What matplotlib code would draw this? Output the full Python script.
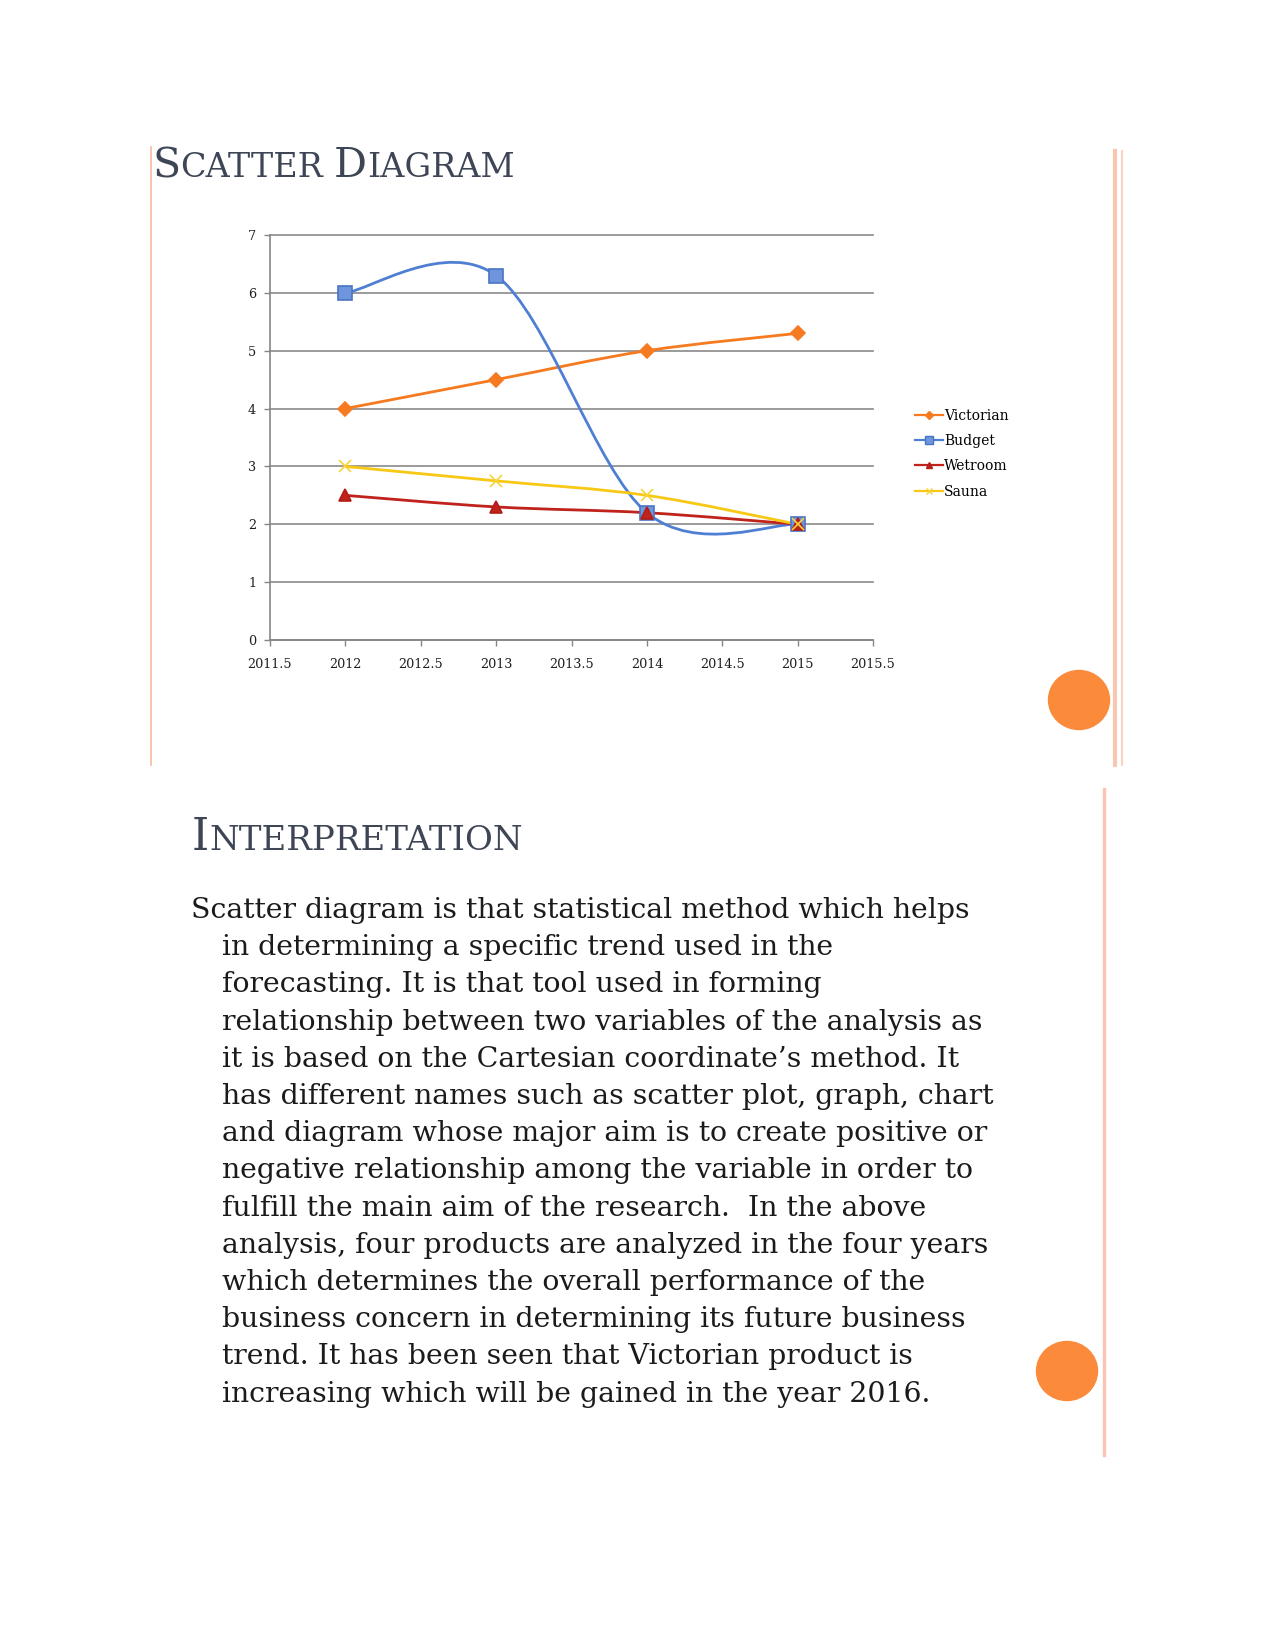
import matplotlib
matplotlib.use("Agg")
import matplotlib.pyplot as plt
from matplotlib.path import Path
from matplotlib.patches import PathPatch, Ellipse
from matplotlib.lines import Line2D

# ---- chart data ----
years = [2012, 2013, 2014, 2015]
victorian = [4.0, 4.5, 5.0, 5.3]
budget = [6.0, 6.3, 2.2, 2.0]
wetroom = [2.5, 2.3, 2.2, 2.0]
sauna = [3.0, 2.75, 2.5, 2.0]
series_names = ["Victorian", "Budget", "Wetroom", "Sauna"]
x_ticks = [2011.5, 2012, 2012.5, 2013, 2013.5, 2014, 2014.5, 2015, 2015.5]
y_ticks = [0, 1, 2, 3, 4, 5, 6, 7]

body_lines = [
    "Scatter diagram is that statistical method which helps",
    "in determining a specific trend used in the",
    "forecasting. It is that tool used in forming",
    "relationship between two variables of the analysis as",
    "it is based on the Cartesian coordinate\u2019s method. It",
    "has different names such as scatter plot, graph, chart",
    "and diagram whose major aim is to create positive or",
    "negative relationship among the variable in order to",
    "fulfill the main aim of the research.  In the above",
    "analysis, four products are analyzed in the four years",
    "which determines the overall performance of the",
    "business concern in determining its future business",
    "trend. It has been seen that Victorian product is",
    "increasing which will be gained in the year 2016.",
]

W, H = 1275, 1650
SERIF = "DejaVu Serif"
TITLE_COLOR = "#3e4656"


def fx(px):
    return px / W


def fy(py):
    return 1 - py / H


def smooth_path(xs, ys):
    # Excel-style smoothed line: cubic Bezier with 1/6 tangents
    n = len(xs)
    verts = [(xs[0], ys[0])]
    codes = [Path.MOVETO]
    for i in range(n - 1):
        p0 = (xs[max(i - 1, 0)], ys[max(i - 1, 0)])
        p1 = (xs[i], ys[i])
        p2 = (xs[i + 1], ys[i + 1])
        p3 = (xs[min(i + 2, n - 1)], ys[min(i + 2, n - 1)])
        c1 = (p1[0] + (p2[0] - p0[0]) / 6, p1[1] + (p2[1] - p0[1]) / 6)
        c2 = (p2[0] - (p3[0] - p1[0]) / 6, p2[1] - (p3[1] - p1[1]) / 6)
        verts += [c1, c2, p2]
        codes += [Path.CURVE4] * 3
    return Path(verts, codes)


def small_caps(fig, x, y, words, big, small, color):
    # first letter large, rest smaller capitals
    renderer = fig.canvas.get_renderer()
    cur = x
    for wi, word in enumerate(words):
        if wi > 0:
            cur += small * 0.45
        for k, part in enumerate([word[0], word[1:]]):
            size = big if k == 0 else small
            t = fig.text(fx(cur), fy(y), part, fontsize=size, family=SERIF,
                         color=color, va="baseline", ha="left")
            cur += t.get_window_extent(renderer).width


fig = plt.figure(figsize=(12.75, 16.5), dpi=100)

# ---- decorations ----
fig.add_artist(Line2D([fx(150.5), fx(150.5)], [fy(147), fy(765)], color="#f6b9a1", lw=1.2))
fig.add_artist(Line2D([fx(1115), fx(1115)], [fy(151), fy(765)], color="#f8c6b1", lw=3.0))
fig.add_artist(Line2D([fx(1121.5), fx(1121.5)], [fy(151), fy(765)], color="#fbd3c3", lw=1.5))
fig.add_artist(Line2D([fx(1104), fx(1104)], [fy(789), fy(1455)], color="#fbc3b2", lw=2.4))
fig.add_artist(Ellipse((fx(1079), fy(700)), 61 / W, 59 / H, color="#fb8a3b"))
fig.add_artist(Ellipse((fx(1067), fy(1371)), 61 / W, 59 / H, color="#fb8a3b"))

# ---- chart ----
ax = fig.add_axes([fx(270), fy(640), (873 - 270) / W, (640 - 235) / H])
styles = [
    dict(color="#f67a1f", marker="D", ms=7, mfc="#f67a1f", mec="#f67a1f"),
    dict(color="#4f7fd3", marker="s", ms=10, mfc="#6f96dc", mec="#4a74c6"),
    dict(color="#c0231b", marker="^", ms=9, mfc="#c0231b", mec="#b01e17"),
    dict(color="#f7c816", marker="x", ms=9, mfc="none", mec="#f7d23a"),
]
all_series = [victorian, budget, wetroom, sauna]
handles = []
for name, vals, st in zip(series_names, all_series, styles):
    ax.add_patch(PathPatch(smooth_path(years, vals), fill=False,
                           edgecolor=st["color"], lw=2.0, zorder=3))
    ax.plot(years, vals, ls="none", marker=st["marker"], ms=st["ms"],
            mfc=st["mfc"], mec=st["mec"], mew=1.2, zorder=4)
    handles.append(Line2D([], [], color=st["color"], lw=1.6, marker=st["marker"],
                          ms=st["ms"] * 0.55, mfc=st["mfc"], mec=st["mec"], label=name))

ax.set_xlim(2011.5, 2015.5)
ax.set_ylim(0, 7)
ax.set_xticks(x_ticks)
ax.set_xticklabels([f"{v:g}" for v in x_ticks])
ax.set_yticks(y_ticks)
ax.grid(axis="y", color="#8a8a8a", lw=1.2, zorder=1)
ax.set_axisbelow(True)
for gl in ax.get_ygridlines():
    gl.set_clip_on(False)
for s in ["top", "right"]:
    ax.spines[s].set_visible(False)
for s in ["left", "bottom"]:
    ax.spines[s].set_color("#868686")
    ax.spines[s].set_linewidth(1.2)
ax.tick_params(axis="both", colors="#868686", length=4, width=1.0,
               labelcolor="#1e1e1e", labelsize=9.2)
ax.tick_params(axis="x", pad=9)
ax.tick_params(axis="y", pad=6)
for lab in ax.get_xticklabels() + ax.get_yticklabels():
    lab.set_family(SERIF)

fig.legend(handles=handles, loc="upper left", bbox_to_anchor=(fx(915), fy(408.5)),
           frameon=False, prop=dict(family=SERIF, size=10),
           handlelength=2.0, handletextpad=0.1, labelspacing=0.82,
           borderaxespad=0, borderpad=0)

# ---- titles ----
small_caps(fig, 152, 177, ["SCATTER", "DIAGRAM"], 29.5, 24, TITLE_COLOR)
small_caps(fig, 192, 850, ["INTERPRETATION"], 31.5, 24.5, TITLE_COLOR)

# ---- body text ----
for i, line in enumerate(body_lines):
    x0 = 191 if i == 0 else 222
    fig.text(fx(x0), fy(918 + i * 37.2), line, fontsize=20.4, family=SERIF,
             color="#1b1b1b", va="baseline", ha="left")

fig.savefig("out.png", dpi=100)
